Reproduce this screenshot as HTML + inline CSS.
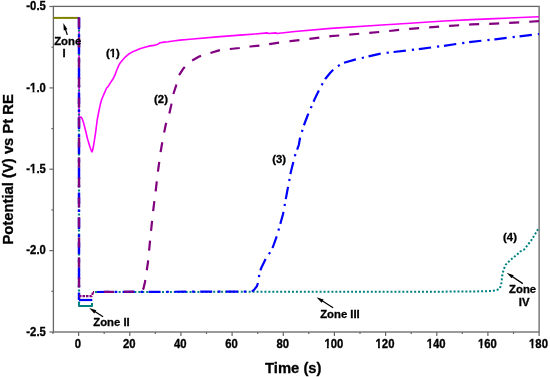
<!DOCTYPE html>
<html><head><meta charset="utf-8"><style>
html,body{margin:0;padding:0;background:#fff;}
body{width:550px;height:377px;overflow:hidden;}
svg{display:block;will-change:transform;}
text{font-family:"Liberation Sans", sans-serif;font-weight:bold;fill:#000;stroke:#000;stroke-width:0.3px;}
.tk{font-size:11.3px;}
.an{font-size:11.3px;}
.ti{font-size:14.8px;}
</style></head><body>
<svg width="550" height="377" viewBox="0 0 550 377">
<rect width="550" height="377" fill="#fff"/>
<rect x="53.4" y="6.4" width="485.7" height="325.6" fill="none" stroke="#666" stroke-width="1.3"/>
<line x1="49.4" y1="6.5" x2="53.4" y2="6.5" stroke="#666" stroke-width="1.2"/>
<g transform="translate(45.8,10.25) scale(1,1.08)"><text text-anchor="end" class="tk">-0.5</text></g>
<line x1="51.4" y1="47.2" x2="53.4" y2="47.2" stroke="#666" stroke-width="1.2"/>
<line x1="49.4" y1="87.9" x2="53.4" y2="87.9" stroke="#666" stroke-width="1.2"/>
<g transform="translate(45.8,91.62) scale(1,1.08)"><text text-anchor="end" class="tk">-1.0</text><rect x="-16.00" y="-2.20" width="2.78" height="3.15" fill="#fff"/><rect x="-11.37" y="-2.20" width="2.23" height="3.15" fill="#fff"/></g>
<line x1="51.4" y1="128.6" x2="53.4" y2="128.6" stroke="#666" stroke-width="1.2"/>
<line x1="49.4" y1="169.2" x2="53.4" y2="169.2" stroke="#666" stroke-width="1.2"/>
<g transform="translate(45.8,173.00) scale(1,1.08)"><text text-anchor="end" class="tk">-1.5</text><rect x="-16.00" y="-2.20" width="2.78" height="3.15" fill="#fff"/><rect x="-11.37" y="-2.20" width="2.23" height="3.15" fill="#fff"/></g>
<line x1="51.4" y1="209.9" x2="53.4" y2="209.9" stroke="#666" stroke-width="1.2"/>
<line x1="49.4" y1="250.6" x2="53.4" y2="250.6" stroke="#666" stroke-width="1.2"/>
<g transform="translate(45.8,254.38) scale(1,1.08)"><text text-anchor="end" class="tk">-2.0</text></g>
<line x1="51.4" y1="291.3" x2="53.4" y2="291.3" stroke="#666" stroke-width="1.2"/>
<line x1="49.4" y1="332.0" x2="53.4" y2="332.0" stroke="#666" stroke-width="1.2"/>
<g transform="translate(45.8,335.75) scale(1,1.08)"><text text-anchor="end" class="tk">-2.5</text></g>
<line x1="53.0" y1="332" x2="53.0" y2="334.0" stroke="#666" stroke-width="1.2"/>
<line x1="78.6" y1="332" x2="78.6" y2="336.0" stroke="#666" stroke-width="1.2"/>
<g transform="translate(78.00,348) scale(1,1.08)"><text text-anchor="middle" class="tk">0</text></g>
<line x1="104.2" y1="332" x2="104.2" y2="334.0" stroke="#666" stroke-width="1.2"/>
<line x1="129.8" y1="332" x2="129.8" y2="336.0" stroke="#666" stroke-width="1.2"/>
<g transform="translate(129.17,348) scale(1,1.08)"><text text-anchor="middle" class="tk">20</text></g>
<line x1="155.3" y1="332" x2="155.3" y2="334.0" stroke="#666" stroke-width="1.2"/>
<line x1="180.9" y1="332" x2="180.9" y2="336.0" stroke="#666" stroke-width="1.2"/>
<g transform="translate(180.33,348) scale(1,1.08)"><text text-anchor="middle" class="tk">40</text></g>
<line x1="206.5" y1="332" x2="206.5" y2="334.0" stroke="#666" stroke-width="1.2"/>
<line x1="232.1" y1="332" x2="232.1" y2="336.0" stroke="#666" stroke-width="1.2"/>
<g transform="translate(231.50,348) scale(1,1.08)"><text text-anchor="middle" class="tk">60</text></g>
<line x1="257.7" y1="332" x2="257.7" y2="334.0" stroke="#666" stroke-width="1.2"/>
<line x1="283.3" y1="332" x2="283.3" y2="336.0" stroke="#666" stroke-width="1.2"/>
<g transform="translate(282.66,348) scale(1,1.08)"><text text-anchor="middle" class="tk">80</text></g>
<line x1="308.8" y1="332" x2="308.8" y2="334.0" stroke="#666" stroke-width="1.2"/>
<line x1="334.4" y1="332" x2="334.4" y2="336.0" stroke="#666" stroke-width="1.2"/>
<g transform="translate(333.83,348) scale(1,1.08)"><text text-anchor="middle" class="tk">100</text><rect x="-9.72" y="-2.20" width="2.78" height="3.15" fill="#fff"/><rect x="-5.09" y="-2.20" width="2.23" height="3.15" fill="#fff"/></g>
<line x1="360.0" y1="332" x2="360.0" y2="334.0" stroke="#666" stroke-width="1.2"/>
<line x1="385.6" y1="332" x2="385.6" y2="336.0" stroke="#666" stroke-width="1.2"/>
<g transform="translate(385.00,348) scale(1,1.08)"><text text-anchor="middle" class="tk">120</text><rect x="-9.72" y="-2.20" width="2.78" height="3.15" fill="#fff"/><rect x="-5.09" y="-2.20" width="2.23" height="3.15" fill="#fff"/></g>
<line x1="411.2" y1="332" x2="411.2" y2="334.0" stroke="#666" stroke-width="1.2"/>
<line x1="436.8" y1="332" x2="436.8" y2="336.0" stroke="#666" stroke-width="1.2"/>
<g transform="translate(436.16,348) scale(1,1.08)"><text text-anchor="middle" class="tk">140</text><rect x="-9.72" y="-2.20" width="2.78" height="3.15" fill="#fff"/><rect x="-5.09" y="-2.20" width="2.23" height="3.15" fill="#fff"/></g>
<line x1="462.3" y1="332" x2="462.3" y2="334.0" stroke="#666" stroke-width="1.2"/>
<line x1="487.9" y1="332" x2="487.9" y2="336.0" stroke="#666" stroke-width="1.2"/>
<g transform="translate(487.33,348) scale(1,1.08)"><text text-anchor="middle" class="tk">160</text><rect x="-9.72" y="-2.20" width="2.78" height="3.15" fill="#fff"/><rect x="-5.09" y="-2.20" width="2.23" height="3.15" fill="#fff"/></g>
<line x1="513.5" y1="332" x2="513.5" y2="334.0" stroke="#666" stroke-width="1.2"/>
<line x1="539.1" y1="332" x2="539.1" y2="336.0" stroke="#666" stroke-width="1.2"/>
<g transform="translate(538.49,348) scale(1,1.08)"><text text-anchor="middle" class="tk">180</text><rect x="-9.72" y="-2.20" width="2.78" height="3.15" fill="#fff"/><rect x="-5.09" y="-2.20" width="2.23" height="3.15" fill="#fff"/></g>
<polyline points="53.4,17.9 78.6,17.9" fill="none" stroke="#808000" stroke-width="2" stroke-linejoin="round" />
<polyline points="79.1,17.6 79.1,117.0 80.1,117.2 81.2,117.1 82.2,118.8 83.6,122.9 85.7,131.2 87.7,139.5 89.8,146.4 91.2,150.5 91.9,151.9 92.6,150.5 93.9,143.6 95.6,132.6 97.2,120.0 98.8,111.5 100.3,104.5 101.5,100.0 102.6,97.3 104.6,92.6 106.6,88.0 107.9,86.9 110.5,82.6 113.1,78.8 115.0,74.9 116.9,69.8 118.8,65.4 120.7,62.2 124.6,57.7 128.4,54.3 133.5,51.4 139.8,48.8 144.9,47.2 150.0,45.9 153.9,45.4 157.0,44.6 160.2,42.8 164.1,42.1 168.0,41.8 175.0,40.8 180.0,40.1 190.0,39.3 217.1,36.9 243.1,34.9 255.0,34.0 267.5,32.9 268.5,33.5 276.0,32.9 277.0,33.5 295.0,31.5 330.9,28.4 381.8,25.0 410.0,23.2 444.0,21.0 471.4,19.6 495.0,18.6 539.0,16.8" fill="none" stroke="#ff00ff" stroke-width="1.6" stroke-linejoin="round" />
<polyline points="79.0,17.6 79.0,303.0" fill="none" stroke="#008080" stroke-width="2.2" stroke-linejoin="round" stroke-dasharray="2 2"/>
<polyline points="79.0,17.6 79.0,300.0" fill="none" stroke="#0000ff" stroke-width="2.4" stroke-linejoin="round" stroke-dasharray="11.5 5.5 2.5 5.5"/>
<polyline points="79.0,17.6 79.0,296.2" fill="none" stroke="#800080" stroke-width="2.4" stroke-linejoin="round" stroke-dasharray="10 10"/>
<polyline points="79.0,303.0 79.0,306.0 92.0,306.0 92.0,303.0" fill="none" stroke="#008080" stroke-width="2" stroke-linejoin="round" />
<polyline points="79.0,300.0 92.3,300.0" fill="none" stroke="#0000ff" stroke-width="2.2" stroke-linejoin="round" />
<polyline points="79.0,296.2 91.5,296.2 92.5,294.0 93.0,292.0" fill="none" stroke="#800080" stroke-width="2.2" stroke-linejoin="round" stroke-dasharray="2.5 1"/>
<polyline points="95.0,292.0 470.0,291.6 489.9,291.1 496.5,290.2 499.8,288.5 501.2,284.5 501.8,279.2 502.5,273.9 503.8,269.2 505.8,264.6 509.8,260.6 513.8,257.3 517.7,254.0 520.0,251.6 524.0,249.7 531.4,240.2 537.8,229.6 539.0,227.5" fill="none" stroke="#008080" stroke-width="2" stroke-linejoin="round" stroke-dasharray="2 1.94"/>
<polyline points="95.0,292.0 252.0,291.5" fill="none" stroke="#0000ff" stroke-width="2.2" stroke-linejoin="round" stroke-dasharray="12 5.7 2.6 5.5" stroke-dashoffset="23.80"/>
<polyline points="252.0,291.5 254.6,289.2 257.0,286.0 258.5,281.2 259.3,274.0 261.0,268.5 265.7,258.9 269.7,252.8 272.9,247.0 277.2,235.0 283.0,214.3 286.9,193.0 290.9,171.8 294.9,155.9 298.8,145.0 300.0,138.2 303.8,125.6 307.6,115.5 311.4,106.7 315.2,97.9 320.2,87.8 325.2,79.0 330.3,72.7 335.3,67.6 342.9,63.1 355.0,59.6 381.8,53.3 410.0,50.2 444.0,45.8 471.4,41.8 495.0,39.3 539.0,34.0" fill="none" stroke="#0000ff" stroke-width="2.2" stroke-linejoin="round" stroke-dasharray="12.4 6 2.2 4.8" stroke-dashoffset="1.80"/>
<polyline points="93.0,292.0 141.0,291.6 143.5,288.5 145.0,282.0 148.0,262.0 150.5,236.0 153.0,212.0 155.8,190.0 158.0,171.0 160.6,152.0 163.0,138.0 165.9,124.0 169.1,114.6 171.2,105.3 173.0,95.2 176.1,85.6 178.5,76.0 183.3,68.6 187.0,64.5 191.3,60.9 199.2,56.5 205.0,54.5 210.4,53.0 219.0,50.4 230.0,49.0 239.4,48.0 250.5,46.5 259.8,45.6 271.0,43.8 280.0,42.5" fill="none" stroke="#800080" stroke-width="2.2" stroke-linejoin="round" stroke-dasharray="10 9.84" stroke-dashoffset="8.84"/>
<polyline points="280.0,42.5 290.2,41.2 330.9,36.2 381.8,31.8 410.0,28.8 450.0,25.9 471.4,24.4 495.0,23.6 539.0,21.2" fill="none" stroke="#800080" stroke-width="2.2" stroke-linejoin="round" stroke-dasharray="10 10.05" stroke-dashoffset="10.47"/>
<text x="112.8" y="56.9" text-anchor="middle" class="an">(1)</text><rect x="109.37" y="54.70" width="2.78" height="3.15" fill="#fff"/><rect x="114.00" y="54.70" width="2.23" height="3.15" fill="#fff"/>
<text x="161" y="103.2" text-anchor="middle" class="an">(2)</text>
<text x="279.1" y="163.1" text-anchor="middle" class="an">(3)</text>
<text x="510" y="240.5" text-anchor="middle" class="an">(4)</text>
<text x="67.7" y="44.9" text-anchor="middle" class="an">Zone</text>
<text x="64" y="57.3" text-anchor="middle" class="an">I</text>
<text x="111.5" y="325.6" text-anchor="middle" class="an">Zone II</text>
<text x="340" y="317.9" text-anchor="middle" class="an">Zone III</text>
<text x="522.6" y="292.8" text-anchor="middle" class="an">Zone</text>
<text x="524.2" y="305.9" text-anchor="middle" class="an">IV</text>
<line x1="67.3" y1="34.9" x2="65.3" y2="28.9" stroke="#000" stroke-width="1.3"/><polygon points="63.3,23.0 67.4,29.2 63.8,30.4" fill="#000"/>
<line x1="103.1" y1="316.8" x2="94.4" y2="311.3" stroke="#000" stroke-width="1.3"/><polygon points="89.2,308.0 96.3,310.2 94.3,313.5" fill="#000"/>
<line x1="333.1" y1="307.7" x2="321.7" y2="300.5" stroke="#000" stroke-width="1.3"/><polygon points="316.5,297.2 323.6,299.4 321.6,302.7" fill="#000"/>
<line x1="522.8" y1="283.6" x2="511.8" y2="276.2" stroke="#000" stroke-width="1.3"/><polygon points="506.7,272.7 513.7,275.2 511.6,278.3" fill="#000"/>
<text x="293.3" y="372.6" text-anchor="middle" class="ti">Time (s)</text>
<text transform="translate(13.4,169.3) rotate(-90)" x="0" y="0" text-anchor="middle" class="ti">Potential (V) vs Pt RE</text>
</svg>
</body></html>
